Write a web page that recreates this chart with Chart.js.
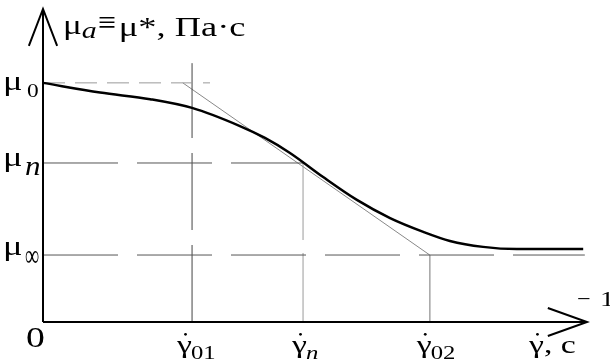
<!DOCTYPE html>
<html>
<head>
<meta charset="utf-8">
<script src="https://cdn.jsdelivr.net/npm/chart.js@4"></script>
<style>
  html, body { margin: 0; padding: 0; background: #ffffff; }
  #wrap { width: 610px; height: 364px; }
</style>
</head>
<body>
<div id="wrap"><canvas id="c" width="610" height="364"></canvas></div>
<script>
// ---- Data (schematic units: x 0..100 along shear-rate axis, y 0..100 along viscosity axis) ----
const curveX = [0, 10.5, 19.7, 27.4, 36.2, 40.8, 45.4, 51.5, 57.7, 63.8, 69.9, 74.8, 80.9, 87.1, 99.3];
const curveY = [76.4, 73.3, 71.2, 68.4, 62.6, 58.8, 54.0, 46.3, 39.0, 33.2, 28.8, 25.9, 24.0, 23.3, 23.3];
const tangentX = [25.7, 71.1];
const tangentY = [76.4, 21.4];
const levelNames = ['μ0', 'μn', 'μ∞'];
const levelValues = [76.4, 50.8, 21.4];          // μ0, μn, μ∞
const levelEnds = [30.7, 47.8, 99.6];            // where each dashed level line stops
const rateNames = ['γ01', 'γn', 'γ02'];
const rateValues = [27.4, 47.8, 71.1];           // γ̇01, γ̇n, γ̇02
const rateTops = [82.7, 50.8, 21.4];             // upper end of each vertical line
const axisMax = [100, 100];                      // x-axis arrow tip, y-axis arrow tip

function pts(xs, ys) { return xs.map((x, i) => ({ x: x, y: ys[i] })); }

const ds = [];
function line(data, color, width, dash, order) {
  ds.push({ data: data, showLine: true, borderColor: color, borderWidth: width,
            borderDash: dash || [], pointRadius: 0, fill: false, clip: false,
            tension: 0, order: order || 5 });
}
// Level lines
line([{x:0,y:levelValues[0]},{x:levelEnds[0],y:levelValues[0]}], '#9a9a9a', 1, [22,10]);
line([{x:0,y:levelValues[1]},{x:levelEnds[1],y:levelValues[1]}], '#555555', 1, [75,19]);
line([{x:0,y:levelValues[2]},{x:levelEnds[2],y:levelValues[2]}], '#555555', 1, [75,19]);
// Vertical lines
line([{x:rateValues[0],y:0},{x:rateValues[0],y:rateTops[0]}], '#444444', 1, [77,15]);
line([{x:rateValues[1],y:rateTops[1]},{x:rateValues[1],y:0}], '#9a9a9a', 1, [77,13]);
line([{x:rateValues[2],y:rateTops[2]},{x:rateValues[2],y:0}], '#aaaaaa', 1, []);
// Tangent
line(pts(tangentX, tangentY), '#888888', 1, []);
// Axes with arrows
line([{x:0,y:0},{x:axisMax[0],y:0}], '#000000', 2, [], 1);
line([{x:0,y:0},{x:0,y:axisMax[1]}], '#000000', 2, [], 1);
line([{x:92.8,y:4.47},{x:axisMax[0],y:0},{x:92.8,y:-4.47}], '#000000', 2, [], 1);
line([{x:-2.6,y:88.2},{x:0,y:axisMax[1]},{x:2.6,y:88.2}], '#000000', 2, [], 1);
// Main curve
ds.push({ data: pts(curveX, curveY), showLine: true, borderColor: '#000000', borderWidth: 2.5,
          pointRadius: 0, fill: false, clip: false, cubicInterpolationMode: 'monotone', order: 0 });

const SERIF = '"Liberation Serif", "DejaVu Serif", serif';
const SX = 1.3;   // horizontal stretch of the lettering in the reference

// draw text at (x, base), horizontally stretched; returns drawn width in px
function txt(ctx, s, x, base, font, sx, sy) {
  sx = sx || SX; sy = sy || 1;
  ctx.save();
  ctx.font = font;
  ctx.translate(x, base);
  ctx.scale(sx, sy);
  ctx.fillText(s, 0, 0);
  const w = ctx.measureText(s).width * sx;
  ctx.restore();
  return w;
}

function gammaDot(ctx, x, base, size) {
  const w = txt(ctx, 'γ', x, base, size + 'px ' + SERIF);
  ctx.beginPath();
  ctx.arc(x + w / 2 + 1, base - size * 0.72, 1.4, 0, Math.PI * 2);
  ctx.fill();
  return w;
}

const labelPlugin = {
  id: 'labels',
  afterDraw(chart) {
    const ctx = chart.ctx;
    const xs = chart.scales.x, ys = chart.scales.y;
    ctx.save();
    ctx.fillStyle = '#000';
    ctx.textBaseline = 'alphabetic';
    ctx.textAlign = 'left';
    // Y level labels: μ0, μn, μ∞
    const muBase = [7, 3, 0];
    levelValues.forEach((v, i) => {
      const py = ys.getPixelForValue(v);
      txt(ctx, 'μ', 3, py + muBase[i], '28px ' + SERIF);
    });
    let py0 = ys.getPixelForValue(levelValues[0]);
    txt(ctx, '0', 27, py0 + 14, '18px ' + SERIF);
    let pyn = ys.getPixelForValue(levelValues[1]);
    txt(ctx, 'n', 25, pyn + 12, 'italic 27px ' + SERIF, 1.15);
    let pyi = ys.getPixelForValue(levelValues[2]);
    txt(ctx, '∞', 25, pyi + 11, '21px ' + SERIF, 0.95, 1.5);
    // Origin
    txt(ctx, '0', 26, 347, '29px ' + SERIF);
    // X rate labels
    const gOff = [-15, -11, -13];
    const xsubs = ['01', 'n', '02'];
    const xsubFonts = ['19px ' + SERIF, 'italic 19px ' + SERIF, '19px ' + SERIF];
    rateValues.forEach((v, i) => {
      const px = xs.getPixelForValue(v);
      const w = gammaDot(ctx, px + gOff[i], 353, 26);
      txt(ctx, xsubs[i], px + gOff[i] + w - 1, 359, xsubFonts[i]);
    });
    // Axis unit
    const w2 = gammaDot(ctx, 529, 353, 26);
    txt(ctx, ', c', 529 + w2, 353, '26px ' + SERIF);
    txt(ctx, '−', 577, 306, '22px ' + SERIF, 1.1);
    txt(ctx, '1', 600, 306, '22px ' + SERIF);
    // Title
    let x = 63;
    x += txt(ctx, 'μ', x, 34, '27px ' + SERIF);
    x += txt(ctx, 'a', x, 38, 'italic 23px ' + SERIF);
    x += 1;
    x += txt(ctx, '≡', x, 33, '32px ' + SERIF, 1.0);
    x += 3;
    txt(ctx, 'μ*, Па·с', x, 36, '28px ' + SERIF);
    ctx.restore();
  }
};

new Chart(document.getElementById('c'), {
  type: 'scatter',
  data: { datasets: ds },
  options: {
    responsive: false,
    animation: false,
    devicePixelRatio: 1,
    layout: { padding: { left: 43, right: 23, top: 9, bottom: 42 } },
    plugins: { legend: { display: false }, tooltip: { enabled: false } },
    scales: {
      x: { type: 'linear', min: 0, max: 100, display: false },
      y: { type: 'linear', min: 0, max: 100, display: false }
    }
  },
  plugins: [labelPlugin]
});
</script>
</body>
</html>
